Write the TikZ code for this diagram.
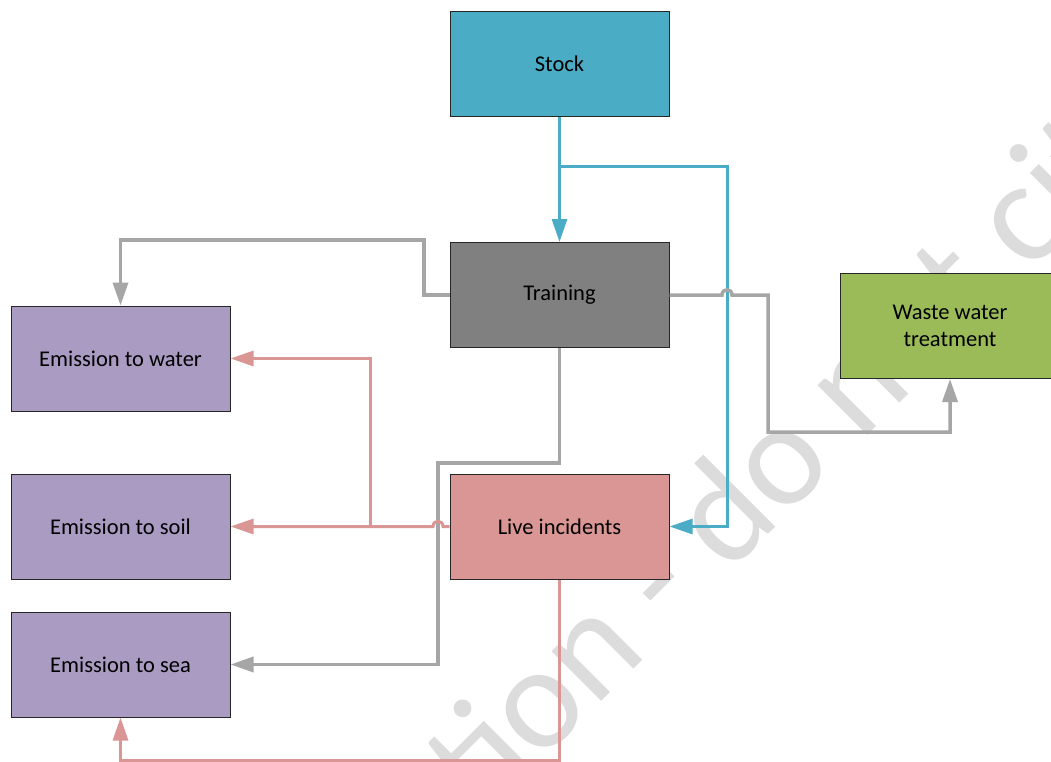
\documentclass[tikz,border=0pt]{standalone}
\usepackage{fontspec}
\setmainfont{Carlito}
\usetikzlibrary{arrows.meta}
\definecolor{stockc}{HTML}{4BACC6}
\definecolor{trainc}{HTML}{808080}
\definecolor{wwtc}{HTML}{9BBB59}
\definecolor{emc}{HTML}{A99BC1}
\definecolor{livec}{HTML}{D99694}
\definecolor{grayl}{HTML}{A6A6A6}
\definecolor{wmark}{HTML}{DCDCDC}
\definecolor{edgec}{HTML}{262626}
\tikzset{
  box/.style={draw=edgec, line width=1pt, minimum width=219pt, minimum height=105pt,
    inner sep=0pt, align=center, font=\fontsize{22.5}{27}\selectfont, text=black},
  tipx/.style={-{Triangle[length=23pt,width=15pt]}},
  tealline/.style={draw=stockc, line width=3pt},
  grayline/.style={draw=grayl, line width=3.5pt},
  pinkline/.style={draw=livec, line width=3pt},
}
\begin{document}
\begin{tikzpicture}[x=1pt,y=-1pt]
\useasboundingbox (0,0) rectangle (1051,762);
\clip (0,0) rectangle (1051,762);
\fill[white] (0,0) rectangle (1051,762);
% watermark
\node[anchor=base west, rotate=45, inner sep=0pt, text=wmark,
  font=\fontsize{147}{150}\selectfont] (wm) at (482,821) {\llap{Draft for consulta}tion - do not cite};
% boxes
\node[box, fill=stockc] (stock) at (559.5,64) {Stock};
\node[box, fill=trainc] (training) at (559.5,295) {Training};
\node[box, fill=wwtc] (wwt) at (950,326) {Waste water\\treatment};
\node[box, fill=emc] (ewater) at (120.5,358.5) {Emission to water};
\node[box, fill=emc] (esoil) at (120.5,526.5) {Emission to soil};
\node[box, fill=emc] (esea) at (120.5,664.5) {Emission to sea};
\node[box, fill=livec] (live) at (559.5,526.5) {Live incidents};
% coordinates
\coordinate (tb) at (559.5,167);
\coordinate (tr) at (727,167);
\coordinate (tl1) at (424,295);
\coordinate (tl2) at (424,240);
\coordinate (hopa1) at (722,295);
\coordinate (hopa2) at (732,295);
\coordinate (tw1) at (768,295);
\coordinate (tw2) at (768,432);
\coordinate (ts1) at (559.5,463);
\coordinate (ts2) at (438,463);
\coordinate (ts3) at (438,664.5);
\coordinate (hopb1) at (443,526.5);
\coordinate (hopb2) at (433,526.5);
\coordinate (lb) at (370,526.5);
\coordinate (lw) at (370,358.5);
\coordinate (ld) at (559.5,760);
% teal connectors
\draw[tealline, tipx] (stock.south) -- (training.north);
\draw[tealline, tipx] (tb) -- (tr) -- (tr |- live.east) -- (live.east);
% gray connectors
\draw[grayline, tipx] (training.west) -- (tl1) -- (tl2) -| (ewater.north);
\draw[grayline, tipx] (training.east) -- (hopa1) .. controls (722,288) and (732,288) .. (hopa2) -- (tw1) -- (tw2) -| (wwt.south);
\draw[grayline, tipx] (training.south) -- (ts1) -- (ts2) -- (ts3) -- (esea.east);
% pink connectors
\draw[pinkline, tipx] (live.west) -- (hopb1) .. controls (443,519.5) and (433,519.5) .. (hopb2) -- (esoil.east);
\draw[pinkline, tipx] (lb) -- (lw) -- (ewater.east);
\draw[pinkline, tipx] (live.south) -- (ld) -| (esea.south);
\end{tikzpicture}
\end{document}
